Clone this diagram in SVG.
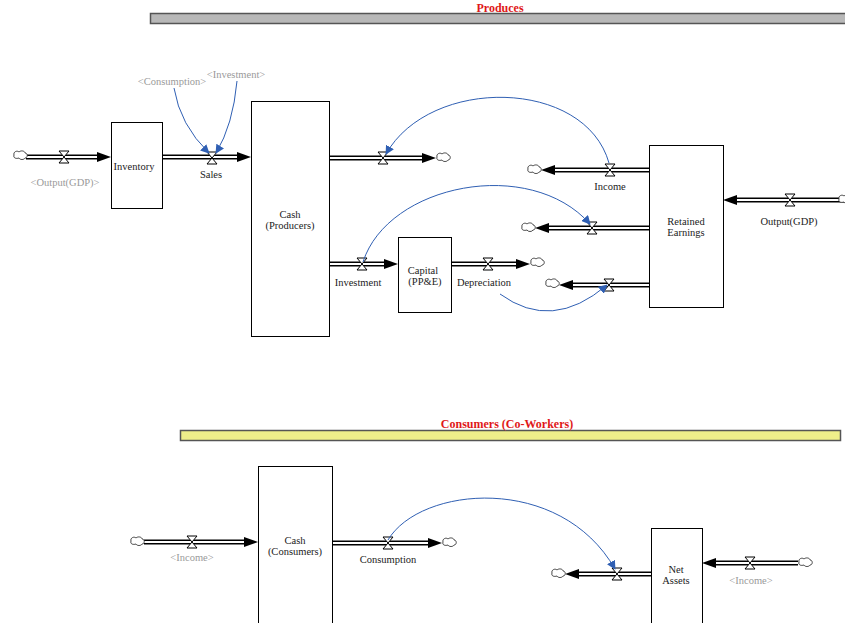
<svg xmlns="http://www.w3.org/2000/svg" width="845" height="623" viewBox="0 0 845 623" font-family="'Liberation Serif', 'Times New Roman', serif">
  <style>
    text { font-family: "Liberation Serif", "Times New Roman", serif; font-size: 10.5px; fill: #222; text-anchor: middle; }
    .ghost { fill: #9a9a9a; }
    .title { fill: #e01818; font-weight: bold; font-size: 12px; }
    .stock { fill: #fff; stroke: #000; stroke-width: 1; }
    .pipeo { stroke: #000; stroke-width: 5; fill: none; }
    .pipei { stroke: #fff; stroke-width: 1.8; fill: none; }
    .head { fill: #000; }
    .link { fill: none; stroke: #2f5fb3; stroke-width: 1; }
    .cloud { fill: #fff; stroke: #333; stroke-width: 0.9; }
    .valve { fill: #fff; stroke: #000; stroke-width: 1; }
  </style>
  <defs>
    <path id="cloud" class="cloud" d="M-6,-1 c-1,-3 3,-5 5,-3 c2,-2 6,-1 6,1 c3,0 3,5 0,5 c-1,2 -5,2 -6,0 c-3,1 -6,0 -5,-3 z"/>
    <path id="valve" class="valve" d="M-5,-6 H5 L-5,6 H5 Z"/>
    <marker id="linkhead" viewBox="0 0 10 10" refX="9" refY="5" markerWidth="9" markerHeight="9" markerUnits="userSpaceOnUse" orient="auto">
      <path d="M0,0 L10,5 L0,10 z" fill="#2f5fb3"/>
    </marker>
  </defs>

  <!-- sector banners -->
  <g id="sector-producers">
    <rect x="150.5" y="13.5" width="700" height="10" fill="#b8b8b8" stroke="#555" stroke-width="1.5"/>
    <text class="title" x="500" y="12">Produces</text>
  </g>
  <g id="sector-consumers">
    <rect x="180.5" y="430.5" width="660" height="10" fill="#eeee8a" stroke="#555" stroke-width="1.5"/>
    <text class="title" x="507" y="428">Consumers (Co-Workers)</text>
  </g>

  <!-- flow pipes and connectors -->
  <g id="connectors">
    <!-- pipes -->
    <g>
      <path class="pipeo" d="M26,157 H99 M162,157 H239 M329,158 H424 M649,170 H553 M649,228 H547 M649,285 H571 M845,200 H735 M329,264 H386 M451,264 H518 M144,542 H246 M332,543 H430 M651,574 H577 M798,563 H714"/>
      <path class="pipei" d="M26,157 H99 M162,157 H239 M329,158 H424 M649,170 H553 M649,228 H547 M649,285 H571 M845,200 H735 M329,264 H386 M451,264 H518 M144,542 H246 M332,543 H430 M651,574 H577 M798,563 H714"/>
      <polygon class="head" points="97,152 111,157 97,162"/>
      <polygon class="head" points="237,152 251,157 237,162"/>
      <polygon class="head" points="422,153 436,158 422,163"/>
      <polygon class="head" points="555,165 541,170 555,175"/>
      <polygon class="head" points="549,223 535,228 549,233"/>
      <polygon class="head" points="573,280 559,285 573,290"/>
      <polygon class="head" points="737,195 723,200 737,205"/>
      <polygon class="head" points="384,259 398,264 384,269"/>
      <polygon class="head" points="516,259 530,264 516,269"/>
      <polygon class="head" points="244,537 258,542 244,547"/>
      <polygon class="head" points="428,538 442,543 428,548"/>
      <polygon class="head" points="579,569 565,574 579,579"/>
      <polygon class="head" points="716,558 702,563 716,568"/>
    </g>
    <!-- clouds -->
    <use href="#cloud" x="20" y="156"/>
    <use href="#cloud" x="443" y="158"/>
    <use href="#cloud" x="534" y="170"/>
    <use href="#cloud" x="528" y="228"/>
    <use href="#cloud" x="552" y="284"/>
    <use href="#cloud" x="845" y="200"/>
    <use href="#cloud" x="537" y="263"/>
    <use href="#cloud" x="137" y="542"/>
    <use href="#cloud" x="449" y="543"/>
    <use href="#cloud" x="558" y="574"/>
    <use href="#cloud" x="805" y="563"/>
    <!-- valves -->
    <use href="#valve" x="64" y="157"/>
    <use href="#valve" x="212" y="158"/>
    <use href="#valve" x="383" y="158"/>
    <use href="#valve" x="610" y="170"/>
    <use href="#valve" x="592" y="228"/>
    <use href="#valve" x="609" y="285"/>
    <use href="#valve" x="790" y="200"/>
    <use href="#valve" x="362" y="264"/>
    <use href="#valve" x="488" y="264"/>
    <use href="#valve" x="192" y="542"/>
    <use href="#valve" x="388" y="543"/>
    <use href="#valve" x="617" y="574"/>
    <use href="#valve" x="750" y="563"/>
    <!-- information links -->
    <path class="link" marker-end="url(#linkhead)" d="M174,88 Q180,125 209,153"/>
    <path class="link" marker-end="url(#linkhead)" d="M237,81 Q233,125 216,153"/>
    <path class="link" marker-end="url(#linkhead)" d="M609,163 C585,78 430,76 386,154"/>
    <path class="link" marker-end="url(#linkhead)" d="M363,262 C388,184 530,156 590,224"/>
    <path class="link" marker-end="url(#linkhead)" d="M500,294 Q552,332 607,285"/>
    <path class="link" marker-end="url(#linkhead)" d="M388,540 C420,486 560,473 615,569"/>
  </g>

  <!-- stocks -->
  <g id="inventory">
    <rect class="stock" x="111.5" y="122.5" width="51" height="86"/>
    <text x="134" y="170">Inventory</text>
  </g>
  <g id="cash-producers">
    <rect class="stock" x="251.5" y="101.5" width="78" height="235"/>
    <text x="290" y="218">Cash</text>
    <text x="290" y="229">(Producers)</text>
  </g>
  <g id="capital">
    <rect class="stock" x="398.5" y="237.5" width="53" height="75"/>
    <text x="423" y="274">Capital</text>
    <text x="425" y="285">(PP&amp;E)</text>
  </g>
  <g id="retained-earnings">
    <rect class="stock" x="649.5" y="145.5" width="74" height="162"/>
    <text x="686" y="225">Retained</text>
    <text x="686" y="236">Earnings</text>
  </g>
  <g id="cash-consumers">
    <rect class="stock" x="258.5" y="466.5" width="74" height="160"/>
    <text x="295" y="544">Cash</text>
    <text x="295" y="555">(Consumers)</text>
  </g>
  <g id="net-assets">
    <rect class="stock" x="651.5" y="528.5" width="51" height="100"/>
    <text x="676" y="573">Net</text>
    <text x="676" y="584">Assets</text>
  </g>

  <!-- flow and variable labels -->
  <g id="labels">
    <text class="ghost" x="172" y="85">&lt;Consumption&gt;</text>
    <text class="ghost" x="236" y="78">&lt;Investment&gt;</text>
    <text class="ghost" x="65" y="186">&lt;Output(GDP)&gt;</text>
    <text x="211" y="178">Sales</text>
    <text x="610" y="190">Income</text>
    <text x="789" y="225">Output(GDP)</text>
    <text x="358" y="286">Investment</text>
    <text x="484" y="286">Depreciation</text>
    <text class="ghost" x="192" y="561">&lt;Income&gt;</text>
    <text x="388" y="563">Consumption</text>
    <text class="ghost" x="751" y="584">&lt;Income&gt;</text>
  </g>
</svg>
